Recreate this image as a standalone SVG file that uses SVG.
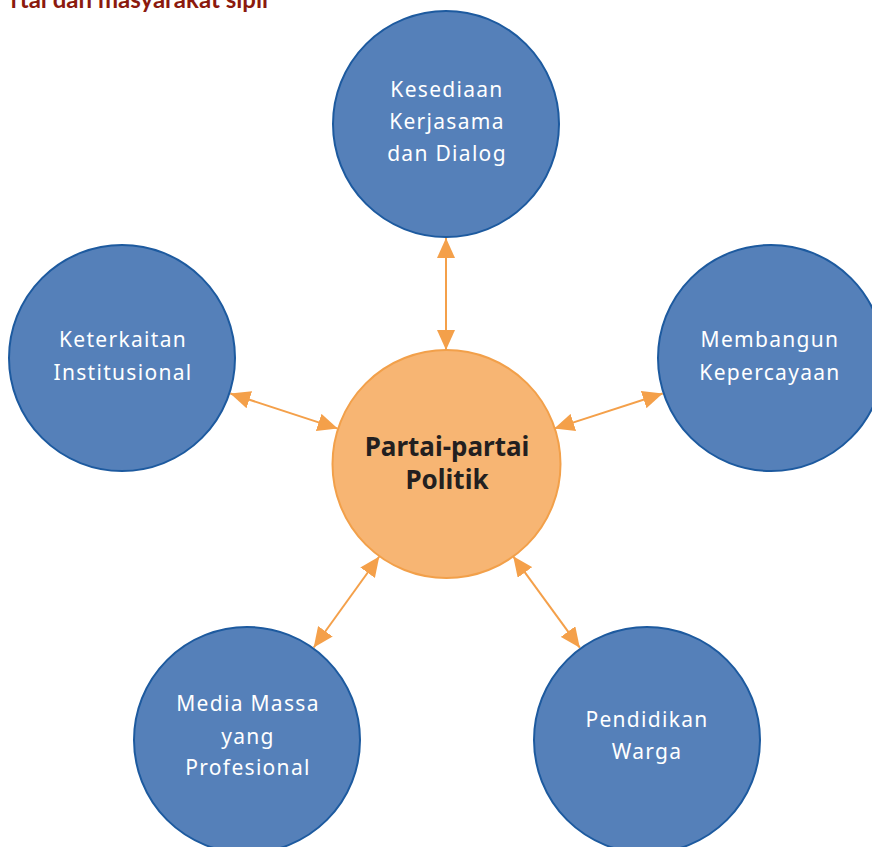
<svg xmlns="http://www.w3.org/2000/svg" width="872" height="847" viewBox="0 0 872 847">
<defs>
<marker id="ah" viewBox="0 0 20 18" refX="20" refY="9" markerWidth="20" markerHeight="18" markerUnits="userSpaceOnUse" orient="auto-start-reverse">
<path d="M0,0 L20,9 L0,18 Z" fill="#f4a04a"/>
</marker>
<style>
.blue{fill:#5580b9;stroke:#1d5a9f;stroke-width:2}
.core{fill:#f7b573;stroke:#f2a04a;stroke-width:2}
.bt{font-family:"Noto Sans","DejaVu Sans",sans-serif;font-size:21px;fill:#ffffff;text-anchor:middle;letter-spacing:1.3px}
.ct{font-family:"Noto Sans","DejaVu Sans",sans-serif;font-size:26px;font-weight:bold;fill:#231f20;text-anchor:middle}
.con{stroke:#f4a04a;stroke-width:2;fill:none;marker-start:url(#ah);marker-end:url(#ah)}
</style>
</defs>
<rect width="872" height="847" fill="#ffffff"/>
<text x="268" y="8" font-family="Lato,'Noto Sans',sans-serif" font-size="24" font-weight="bold" fill="#8b1a0e" text-anchor="end">rtai dan masyarakat sipil</text>
<g id="connectors">
<line class="con" x1="446" y1="238" x2="446" y2="350"/>
<line class="con" x1="230.3" y1="393.5" x2="337.7" y2="428.6"/>
<line class="con" x1="662.7" y1="393.5" x2="554.3" y2="428.6"/>
<line class="con" x1="313.7" y1="647.5" x2="379.3" y2="556.5"/>
<line class="con" x1="579.8" y1="647.7" x2="513.2" y2="556.3"/>
</g>
<g id="n-top">
<circle class="blue" cx="446" cy="124" r="113"/>
<text class="bt" x="447" y="97">Kesediaan</text>
<text class="bt" x="447" y="129">Kerjasama</text>
<text class="bt" x="447" y="161">dan Dialog</text>
</g>
<g id="n-left">
<circle class="blue" cx="122" cy="358" r="113"/>
<text class="bt" x="123" y="347">Keterkaitan</text>
<text class="bt" x="123" y="380">Institusional</text>
</g>
<g id="n-right">
<circle class="blue" cx="771" cy="358" r="113"/>
<text class="bt" x="770" y="347">Membangun</text>
<text class="bt" x="770" y="380">Kepercayaan</text>
</g>
<g id="n-bottom-left">
<circle class="blue" cx="247" cy="740" r="113"/>
<text class="bt" x="248" y="711">Media Massa</text>
<text class="bt" x="248" y="744">yang</text>
<text class="bt" x="248" y="775">Profesional</text>
</g>
<g id="n-bottom-right">
<circle class="blue" cx="647" cy="740" r="113"/>
<text class="bt" x="647" y="727">Pendidikan</text>
<text class="bt" x="647" y="759">Warga</text>
</g>
<g id="n-center">
<circle class="core" cx="446.5" cy="464" r="114"/>
<text class="ct" x="447" y="456">Partai-partai</text>
<text class="ct" x="447" y="489">Politik</text>
</g>
</svg>
